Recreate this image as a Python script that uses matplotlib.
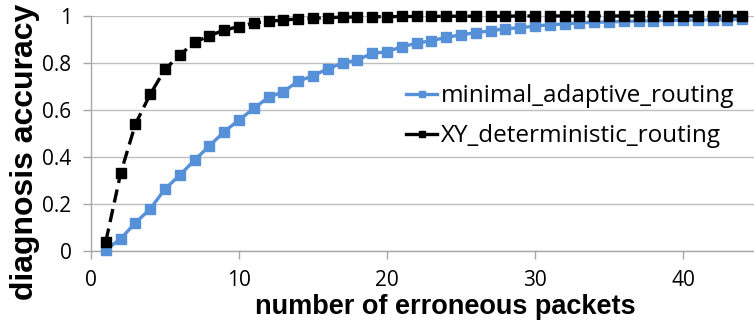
import matplotlib.pyplot as plt

# number of erroneous packets
packets = list(range(1, 45))

minimal_adaptive = [0.005, 0.052, 0.12, 0.179, 0.264, 0.323, 0.387, 0.447, 0.508, 0.557,
                    0.607, 0.654, 0.678, 0.723, 0.745, 0.776, 0.799, 0.813, 0.841, 0.848,
                    0.869, 0.884, 0.895, 0.909, 0.92, 0.929, 0.937, 0.946, 0.95, 0.957,
                    0.963, 0.966, 0.971, 0.973, 0.975, 0.977, 0.978, 0.98, 0.981, 0.982,
                    0.983, 0.984, 0.985, 0.986]

xy_deterministic = [0.04, 0.33, 0.54, 0.667, 0.773, 0.834, 0.888, 0.916, 0.94, 0.955,
                    0.97, 0.977, 0.983, 0.987, 0.99, 0.993, 0.995, 0.996, 0.997, 0.997,
                    0.998, 0.998, 0.998, 0.999, 0.999, 0.999, 0.999, 0.999, 1.0, 1.0,
                    1.0, 1.0, 1.0, 1.0, 1.0, 1.0, 1.0, 1.0, 1.0, 1.0,
                    1.0, 1.0, 1.0, 1.0]

y_ticks = [0, 0.2, 0.4, 0.6, 0.8, 1.0]
y_labels = ["0", "0.2", "0.4", "0.6", "0.8", "1"]
x_ticks = [0, 10, 20, 30, 40]

label_font = "Liberation Sans"
tick_font = "Open Sans"

fig = plt.figure(figsize=(7.54, 3.2), dpi=100)
ax = fig.add_axes([0.1207, 0.2156, 0.8793, 0.7344])

blue = "#5590D8"
ax.plot(packets, minimal_adaptive, color=blue, lw=2.4, marker="s", ms=7,
        label="minimal_adaptive_routing", clip_on=False, zorder=3)
ax.plot(packets, xy_deterministic, color="black", lw=2.4, ls=(0, (4, 2)), marker="s", ms=7,
        label="XY_deterministic_routing", clip_on=False, zorder=4)

ax.set_xlim(0, 44.8)
ax.set_ylim(0, 1)
ax.set_yticks(y_ticks)
ax.set_yticklabels(y_labels, fontfamily=tick_font, fontsize=15)
ax.set_xticks(x_ticks)
ax.set_xticklabels([str(t) for t in x_ticks], fontfamily=tick_font, fontsize=15)

ax.grid(axis="y", color="#BFBFBF", lw=1)
ax.set_axisbelow(True)
for s in ["top", "right"]:
    ax.spines[s].set_visible(False)
for s in ["left", "bottom"]:
    ax.spines[s].set_color("#A6A6A6")
    ax.spines[s].set_linewidth(1)
ax.tick_params(axis="both", direction="out", length=6, color="#A6A6A6", width=1)
ax.tick_params(axis="y", pad=8)
ax.tick_params(axis="x", pad=8)

ax.set_xlabel("number of erroneous packets", fontfamily=label_font, fontweight="bold",
              fontsize=19.5)
ax.xaxis.set_label_coords(0.534, -0.182)
ax.set_ylabel("diagnosis accuracy", fontfamily=label_font, fontweight="bold",
              fontsize=23)
ax.yaxis.set_label_coords(-0.077, 0.421)

leg = ax.legend(loc="upper left", bbox_to_anchor=(0.461, 0.75), frameon=False,
                prop={"family": tick_font, "size": 17.5}, handlelength=1.25,
                handletextpad=0.17, labelspacing=0.65, borderaxespad=0)
for h in leg.legend_handles:
    h.set_markersize(5)
    h.set_linestyle("-")

fig.savefig("out.png", dpi=100)
